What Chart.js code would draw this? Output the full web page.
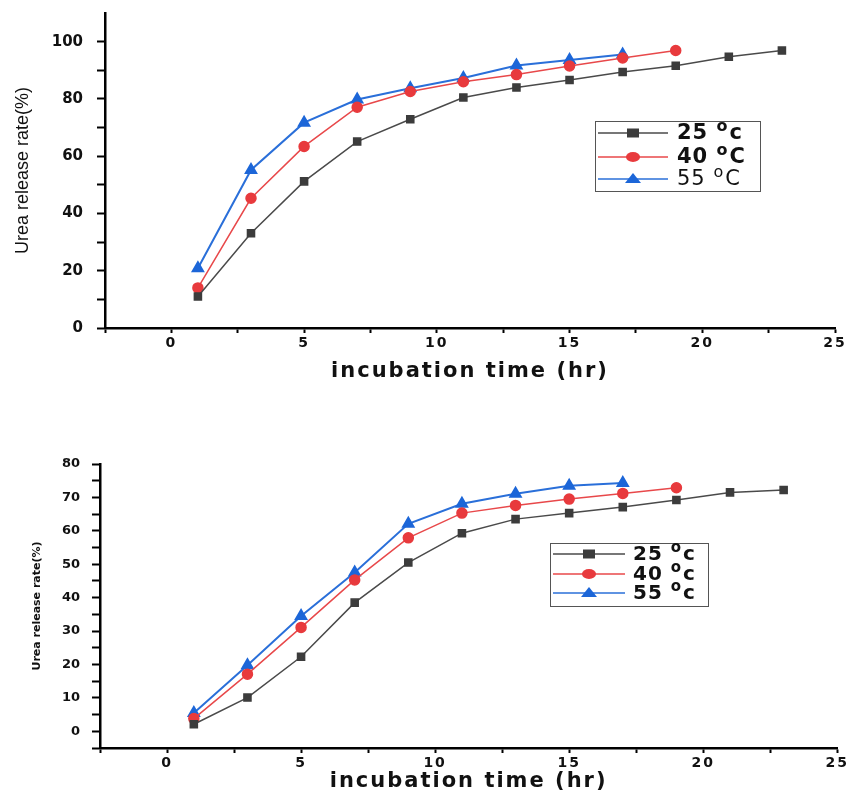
<!DOCTYPE html>
<html>
<head>
<meta charset="utf-8">
<script src="https://cdn.jsdelivr.net/npm/chart.js@4.4.1/dist/chart.umd.min.js"></script>
<style>
  body { margin: 0; background: #fff; }
  #wrap { position: relative; width: 849px; height: 792px; overflow: hidden; }
  canvas { position: absolute; left: 0; }
</style>
</head>
<body>
<div id="wrap">
  <canvas id="topChart" width="849" height="395" style="top:0"></canvas>
  <canvas id="bottomChart" width="849" height="394" style="top:400px"></canvas>
</div>
<script>
// incubation hours (x values)
const hours25 = [1, 3, 5, 7, 9, 11, 13, 15, 17, 19, 21, 23];
const hours40 = [1, 3, 5, 7, 9, 11, 13, 15, 17, 19];
const hours55 = [1, 3, 5, 7, 9, 11, 13, 15, 17];

// top panel - urea release rate (%)
const top25 = [11, 33.1, 51.2, 65.1, 72.9, 80.5, 84, 86.6, 89.4, 91.6, 94.7, 96.9];
const top40 = [14, 45.3, 63.4, 77.1, 82.6, 86, 88.5, 91.5, 94.3, 96.9];
const top55 = [20.9, 55.2, 71.7, 79.8, 83.7, 87.3, 91.7, 93.6, 95.5];

// bottom panel
const bot25 = [2.1, 10.1, 22.3, 38.5, 50.5, 59.3, 63.5, 65.3, 67.1, 69.2, 71.5, 72.2];
const bot40 = [3.8, 17.1, 31.1, 45.3, 57.9, 65.3, 67.6, 69.5, 71.2, 72.9];
const bot55 = [5.5, 19.8, 34.5, 47.5, 62.1, 68.1, 71.1, 73.5, 74.3];

const topLabels = ["25 °c", "40 °C", "55 °C"];
const bottomLabels = ["25 °c", "40 °c", "55 °c"];

const xTitle = "incubation time (hr)";
const yTitle = "Urea release rate(%)";

const colors = ["#3c3c3c", "#e83a3d", "#1c66d8"];
const lineColors = ["#4a4a4a", "#e8484a", "#2a6fd9"];
const shapes = ["rect", "circle", "triangle"];

function pts(xs, ys) {
    return xs.map((x, i) => ({ x: x, y: ys[i] }));
}

function makeDatasets(labels, series) {
    return series.map((s, i) => ({
        label: labels[i],
        data: pts(s[0], s[1]),
        borderColor: lineColors[i],
        backgroundColor: colors[i],
        pointBackgroundColor: colors[i],
        pointBorderColor: colors[i],
        pointStyle: shapes[i],
        pointRadius: i === 2 ? 6 : 5,
        borderWidth: i === 2 ? 2 : 1.5,
        tension: 0,
        clip: false
    }));
}

// wide lettering on the x axis only, like the original figure
const spacing = {
    id: "spacing",
    beforeDraw(chart) {
        const ctx = chart.ctx;
        [["x", "2px"], ["y", "0px"]].forEach(([id, ls]) => {
            const s = chart.scales[id];
            if (s._spaced) return;
            const dl = s.drawLabels, dt = s.drawTitle;
            s.drawLabels = function (a) { ctx.letterSpacing = ls; dl.call(this, a); ctx.letterSpacing = "0px"; };
            s.drawTitle = function () { ctx.letterSpacing = ls; dt.call(this); ctx.letterSpacing = "0px"; };
            s._spaced = true;
        });
    }
};

// draw the legend box inside the plot area
const boxLegend = {
    id: "boxLegend",
    afterDraw(chart, args, opts) {
        const ctx = chart.ctx;
        ctx.save();
        ctx.strokeStyle = "#555";
        ctx.lineWidth = 1;
        ctx.strokeRect(opts.x + 0.5, opts.y + 0.5, opts.w, opts.h);
        chart.data.datasets.forEach((ds, i) => {
            const y = opts.rows[i];
            ctx.strokeStyle = ds.borderColor;
            ctx.lineWidth = 1.5;
            ctx.beginPath();
            ctx.moveTo(opts.lineX0, y);
            ctx.lineTo(opts.lineX1, y);
            ctx.stroke();
            const mx = (opts.lineX0 + opts.lineX1) / 2;
            ctx.fillStyle = ds.pointBackgroundColor;
            ctx.beginPath();
            if (ds.pointStyle === "rect") {
                ctx.rect(mx - 6, y - 4.5, 12, 9);
            } else if (ds.pointStyle === "circle") {
                ctx.ellipse(mx, y, 7, 5, 0, 0, Math.PI * 2);
            } else {
                ctx.moveTo(mx, y - 6);
                ctx.lineTo(mx + 8, y + 4);
                ctx.lineTo(mx - 8, y + 4);
                ctx.closePath();
            }
            ctx.fill();

            // label with a raised "o" for the degree sign
            const weight = opts.bold[i] ? "bold " : "";
            const parts = ds.label.split("°");
            ctx.fillStyle = "#111";
            ctx.textBaseline = "middle";
            ctx.textAlign = "left";
            ctx.letterSpacing = "1px";
            let tx = opts.textX;
            ctx.font = weight + opts.size + "px 'DejaVu Sans', Arial, sans-serif";
            ctx.fillText(parts[0], tx, y + 1);
            tx += ctx.measureText(parts[0]).width;
            if (parts.length > 1) {
                ctx.font = weight + Math.round(opts.size * 0.75) + "px 'DejaVu Sans', Arial, sans-serif";
                ctx.fillText("o", tx, y - opts.size * 0.3);
                tx += ctx.measureText("o").width + 1;
                ctx.font = weight + opts.size + "px 'DejaVu Sans', Arial, sans-serif";
                ctx.fillText(parts[1], tx, y + 1);
            }
            ctx.letterSpacing = "0px";
        });
        ctx.restore();
    }
};

function makeChart(id, datasets, cfg) {
    return new Chart(document.getElementById(id), {
        type: "line",
        data: { datasets: datasets },
        plugins: [spacing, boxLegend],
        options: {
            responsive: false,
            animation: false,
            devicePixelRatio: 1,
            layout: { padding: cfg.padding },
            plugins: {
                legend: { display: false },
                tooltip: { enabled: false },
                boxLegend: cfg.legend
            },
            scales: {
                x: {
                    type: "linear",
                    min: -2.5,
                    max: 25,
                    afterFit: s => { s.height = cfg.xHeight; },
                    border: { display: true, color: "#000", width: 2.5 },
                    grid: { drawOnChartArea: false, drawTicks: true, tickLength: 5, tickColor: "#000", tickWidth: 2 },
                    ticks: {
                        stepSize: 2.5,
                        autoSkip: false,
                        maxRotation: 0,
                        padding: 2,
                        color: "#111",
                        font: { family: "'DejaVu Sans', Arial, sans-serif", size: 14, weight: "bold" },
                        callback: v => (v >= 0 && v % 5 === 0) ? v : ""
                    },
                    title: {
                        display: true,
                        text: xTitle,
                        color: "#111",
                        padding: { top: 4, bottom: 0 },
                        font: { family: "'DejaVu Sans', Arial, sans-serif", size: 21, weight: "bold" }
                    }
                },
                y: {
                    min: cfg.yMin,
                    max: cfg.yMax,
                    afterFit: s => { s.width = cfg.yWidth; s.paddingTop = 0; s.paddingBottom = 0; },
                    border: { display: true, color: "#000", width: 2.5 },
                    grid: {
                        drawOnChartArea: false,
                        drawTicks: true,
                        tickLength: 8,
                        tickWidth: 2,
                        tickColor: c => (c.tick && c.tick.value > cfg.yLabelMax) ? "rgba(0,0,0,0)" : "#000"
                    },
                    ticks: {
                        stepSize: cfg.yStep,
                        autoSkip: false,
                        padding: cfg.yTickPad,
                        color: "#111",
                        font: { family: "'DejaVu Sans', Arial, sans-serif", size: cfg.yTickSize, weight: "bold" },
                        callback: v => (v >= 0 && v <= cfg.yLabelMax && v % cfg.yLabelStep === 0) ? v : ""
                    },
                    title: {
                        display: true,
                        text: yTitle,
                        color: "#111",
                        padding: { top: 4, bottom: 0 },
                        font: cfg.yTitleFont
                    }
                }
            }
        }
    });
}

makeChart("topChart", makeDatasets(topLabels, [[hours25, top25], [hours40, top40], [hours55, top55]]), {
    padding: { left: 8, right: 14, top: 13, bottom: 11 },
    xHeight: 56,
    yWidth: 97,
    yMin: 0, yMax: 110, yStep: 10, yLabelStep: 20, yLabelMax: 100,
    yTickPad: 14, yTickSize: 15,
    yTitleFont: { family: "'Liberation Sans Narrow', 'Liberation Sans', Arial, sans-serif", size: 18, weight: "normal" },
    legend: { x: 595, y: 121, w: 165, h: 70, rows: [133, 157, 179], lineX0: 598, lineX1: 668, textX: 677, size: 21, bold: [true, true, false] }
});

makeChart("bottomChart", makeDatasets(bottomLabels, [[hours25, bot25], [hours40, bot40], [hours55, bot55]]), {
    padding: { left: 27, right: 11, top: 64, bottom: 0 },
    xHeight: 46,
    yWidth: 73,
    yMin: -5, yMax: 80, yStep: 5, yLabelStep: 10, yLabelMax: 80,
    yTickPad: 12, yTickSize: 13,
    yTitleFont: { family: "'DejaVu Sans', Arial, sans-serif", size: 11, weight: "bold" },
    legend: { x: 550, y: 143, w: 158, h: 63, rows: [154, 174, 193], lineX0: 553, lineX1: 625, textX: 633, size: 20, bold: [true, true, true] }
});
</script>
</body>
</html>
